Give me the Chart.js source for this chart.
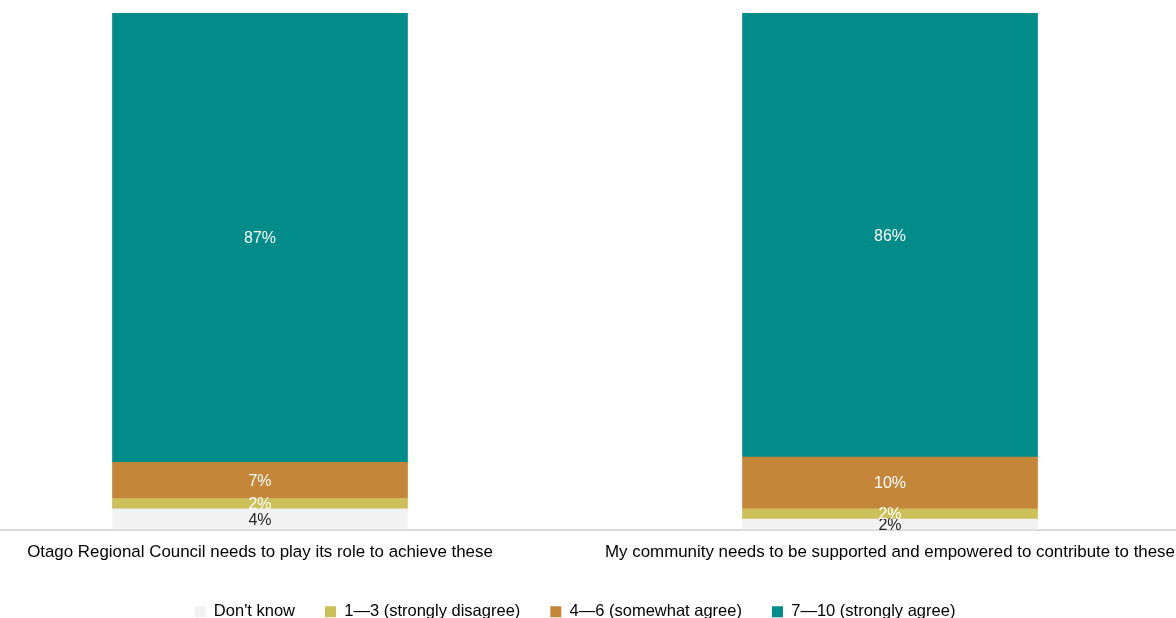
<!DOCTYPE html>
<html>
<head>
<meta charset="utf-8">
<script src="https://cdn.jsdelivr.net/npm/chart.js@4/dist/chart.umd.min.js"></script>
<style>
  html, body { margin: 0; padding: 0; background: #fff; overflow: hidden; width: 1176px; height: 618px; }
  #wrap { position: absolute; left: -55px; top: 0; width: 1260px; height: 630px; }
</style>
</head>
<body>
<div id="wrap"><canvas id="c" width="1260" height="630"></canvas></div>
<script>
const categories = [
  "Otago Regional Council needs to play its role to achieve these",
  "My community needs to be supported and empowered to contribute to these"
];
const seriesNames = ["Don't know", "1\u20143 (strongly disagree)", "4\u20146 (somewhat agree)", "7\u201410 (strongly agree)"];
const dontKnow = [4, 2];
const disagree = [2, 2];
const somewhat = [7, 10];
const strongly = [87, 86];
const colors = ["#F2F2F2", "#CDBF5A", "#C4873A", "#028C89"];
const labelColors = ["#262626", "#FFFFFF", "#FFFFFF", "#FFFFFF"];

const valueLabels = {
  id: 'valueLabels',
  afterDatasetsDraw(chart) {
    const ctx = chart.ctx;
    ctx.save();
    ctx.font = '16px "Liberation Sans", Arial, sans-serif';
    ctx.textAlign = 'center';
    ctx.textBaseline = 'middle';
    chart.data.datasets.forEach((ds, i) => {
      const meta = chart.getDatasetMeta(i);
      meta.data.forEach((el, j) => {
        ctx.fillStyle = labelColors[i];
        ctx.fillText(ds.data[j] + '%', el.x, (el.y + el.base) / 2 + 1);
      });
    });
    ctx.restore();
  }
};

new Chart(document.getElementById('c'), {
  type: 'bar',
  data: {
    labels: categories,
    datasets: [
      { label: seriesNames[0], data: dontKnow, backgroundColor: colors[0] },
      { label: seriesNames[1], data: disagree, backgroundColor: colors[1] },
      { label: seriesNames[2], data: somewhat, backgroundColor: colors[2] },
      { label: seriesNames[3], data: strongly, backgroundColor: colors[3] }
    ]
  },
  options: {
    responsive: false,
    animation: false,
    maintainAspectRatio: false,
    layout: { padding: { top: 13, left: 0, right: 0, bottom: 0 } },
    datasets: { bar: { barThickness: 295, borderWidth: 0 } },
    scales: {
      x: {
        stacked: true,
        grid: { display: false, drawTicks: false },
        border: { display: true, color: '#D9D9D9', width: 2 },
        ticks: {
          padding: 13,
          color: '#000',
          maxRotation: 0,
          autoSkip: false,
          font: { family: '"Liberation Sans", Arial, sans-serif', size: 16.9 }
        },
        afterFit(s) { s.height = 44; }
      },
      y: {
        stacked: true,
        display: false,
        min: 0,
        max: 100
      }
    },
    plugins: {
      legend: {
        position: 'bottom',
        labels: {
          boxWidth: 11,
          boxHeight: 11,
          padding: 30,
          color: '#000',
          font: { family: '"Liberation Sans", Arial, sans-serif', size: 16.5 }
        }
      },
      tooltip: { enabled: false }
    }
  },
  plugins: [valueLabels]
});
</script>
</body>
</html>
